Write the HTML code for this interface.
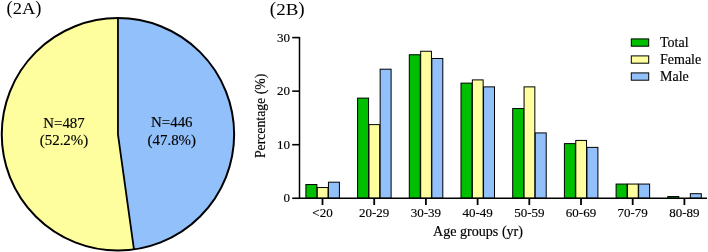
<!DOCTYPE html>
<html><head><meta charset="utf-8"><title>Figure 2</title>
<style>html,body{margin:0;padding:0;background:#fff}svg{display:block}.fig{position:relative;width:708px;height:252px;overflow:hidden;will-change:transform;font-family:'Liberation Serif','Times New Roman',serif;color:#000}.pl{position:absolute;line-height:1;white-space:nowrap}.pl span{display:inline-block;transform:scaleY(0.87);transform-origin:0 83.7%}text{stroke:#000;stroke-width:0.16px}text.p{stroke:none}</style></head>
<body>
<div class="fig">
<svg width="708" height="252" viewBox="0 0 708 252" font-family="'Liberation Serif', 'Times New Roman', serif" fill="#000">
<rect width="708" height="252" fill="#fff"/>
<path d="M117.95,134.3 L117.95,18.10000000000001 A116.2,116.2 0 0 1 133.96,249.39 Z" fill="#92c0fa"/>
<path d="M117.95,134.3 L133.96,249.39 A116.2,116.2 0 1 1 117.95,18.10000000000001 Z" fill="#fefe9e"/>
<path d="M117.95,18.10000000000001 L117.95,134.3 L133.96,249.39" fill="none" stroke="#000" stroke-width="1.8" stroke-linejoin="round"/>
<circle cx="117.95" cy="134.3" r="116.2" fill="none" stroke="#000" stroke-width="2"/>
<g font-size="14.9" text-anchor="middle">
<text x="64" y="127.5">N=487</text><text x="64" y="145.2">(52.2%)</text>
<text x="171.8" y="127.3">N=446</text><text x="171.8" y="145.2">(47.8%)</text>
</g>
<rect x="305.90" y="184.54" width="10.97" height="13.71" fill="#00be00" stroke="#000" stroke-width="1"/>
<rect x="317.27" y="187.54" width="10.77" height="10.71" fill="#fefe9e" stroke="#000" stroke-width="1"/>
<rect x="328.44" y="182.19" width="10.97" height="16.07" fill="#92c0fa" stroke="#000" stroke-width="1"/>
<rect x="357.60" y="98.11" width="10.97" height="100.14" fill="#00be00" stroke="#000" stroke-width="1"/>
<rect x="368.97" y="124.62" width="10.77" height="73.63" fill="#fefe9e" stroke="#000" stroke-width="1"/>
<rect x="380.14" y="69.19" width="10.97" height="129.06" fill="#92c0fa" stroke="#000" stroke-width="1"/>
<rect x="409.30" y="54.74" width="10.97" height="143.51" fill="#00be00" stroke="#000" stroke-width="1"/>
<rect x="420.67" y="51.26" width="10.77" height="146.99" fill="#fefe9e" stroke="#000" stroke-width="1"/>
<rect x="431.84" y="58.48" width="10.97" height="139.77" fill="#92c0fa" stroke="#000" stroke-width="1"/>
<rect x="461.00" y="83.12" width="10.97" height="115.13" fill="#00be00" stroke="#000" stroke-width="1"/>
<rect x="472.37" y="79.90" width="10.77" height="118.35" fill="#fefe9e" stroke="#000" stroke-width="1"/>
<rect x="483.54" y="86.87" width="10.97" height="111.38" fill="#92c0fa" stroke="#000" stroke-width="1"/>
<rect x="512.70" y="108.55" width="10.97" height="89.70" fill="#00be00" stroke="#000" stroke-width="1"/>
<rect x="524.07" y="86.87" width="10.77" height="111.38" fill="#fefe9e" stroke="#000" stroke-width="1"/>
<rect x="535.24" y="132.92" width="10.97" height="65.33" fill="#92c0fa" stroke="#000" stroke-width="1"/>
<rect x="564.40" y="143.63" width="10.97" height="54.62" fill="#00be00" stroke="#000" stroke-width="1"/>
<rect x="575.77" y="140.42" width="10.77" height="57.83" fill="#fefe9e" stroke="#000" stroke-width="1"/>
<rect x="586.94" y="147.38" width="10.97" height="50.87" fill="#92c0fa" stroke="#000" stroke-width="1"/>
<rect x="616.10" y="184.06" width="10.97" height="14.19" fill="#00be00" stroke="#000" stroke-width="1"/>
<rect x="627.47" y="184.06" width="10.77" height="14.19" fill="#fefe9e" stroke="#000" stroke-width="1"/>
<rect x="638.64" y="184.06" width="10.97" height="14.19" fill="#92c0fa" stroke="#000" stroke-width="1"/>
<rect x="667.80" y="196.54" width="10.97" height="1.71" fill="#00be00" stroke="#000" stroke-width="1"/>
<rect x="690.34" y="193.70" width="10.97" height="4.55" fill="#92c0fa" stroke="#000" stroke-width="1"/>
<path d="M299.5,36.90 V198.25 M298.8,198.25 H707" stroke="#000" stroke-width="1.5" fill="none"/>
<path d="M292.2,198.25 H299.5" stroke="#000" stroke-width="1.6"/>
<text x="289.9" y="202.35" font-size="13" text-anchor="end">0</text>
<path d="M292.2,144.70 H299.5" stroke="#000" stroke-width="1.6"/>
<text x="289.9" y="148.80" font-size="13" text-anchor="end">10</text>
<path d="M292.2,91.15 H299.5" stroke="#000" stroke-width="1.6"/>
<text x="289.9" y="95.25" font-size="13" text-anchor="end">20</text>
<path d="M292.2,37.60 H299.5" stroke="#000" stroke-width="1.6"/>
<text x="289.9" y="41.70" font-size="13" text-anchor="end">30</text>
<path d="M322.50,198.25 V205" stroke="#000" stroke-width="1.8"/>
<text x="322.50" y="217.4" font-size="13" text-anchor="middle">&lt;20</text>
<path d="M374.20,198.25 V205" stroke="#000" stroke-width="1.8"/>
<text x="374.20" y="217.4" font-size="13" text-anchor="middle">20-29</text>
<path d="M425.90,198.25 V205" stroke="#000" stroke-width="1.8"/>
<text x="425.90" y="217.4" font-size="13" text-anchor="middle">30-39</text>
<path d="M477.60,198.25 V205" stroke="#000" stroke-width="1.8"/>
<text x="477.60" y="217.4" font-size="13" text-anchor="middle">40-49</text>
<path d="M529.30,198.25 V205" stroke="#000" stroke-width="1.8"/>
<text x="529.30" y="217.4" font-size="13" text-anchor="middle">50-59</text>
<path d="M581.00,198.25 V205" stroke="#000" stroke-width="1.8"/>
<text x="581.00" y="217.4" font-size="13" text-anchor="middle">60-69</text>
<path d="M632.70,198.25 V205" stroke="#000" stroke-width="1.8"/>
<text x="632.70" y="217.4" font-size="13" text-anchor="middle">70-79</text>
<path d="M684.40,198.25 V205" stroke="#000" stroke-width="1.8"/>
<text x="684.40" y="217.4" font-size="13" text-anchor="middle">80-89</text>
<text x="478" y="235.8" font-size="14.1" text-anchor="middle">Age groups (yr)</text>
<text transform="translate(265.0,115.9) rotate(-90)" font-size="13.75" text-anchor="middle">Percentage (%)</text>
<rect x="631.3" y="38.90" width="17.4" height="7.3" fill="#00be00" stroke="#000" stroke-width="1"/>
<text x="660" y="46.50" font-size="14">Total</text>
<rect x="631.3" y="55.90" width="17.4" height="7.3" fill="#fefe9e" stroke="#000" stroke-width="1"/>
<text x="660" y="63.50" font-size="14">Female</text>
<rect x="631.3" y="72.90" width="17.4" height="7.3" fill="#92c0fa" stroke="#000" stroke-width="1"/>
<text x="660" y="80.50" font-size="14">Male</text>
</svg>
<div class="pl" style="left:6.5px;top:-1.49px;font-size:18.5px">(<span>2A</span>)</div>
<div class="pl" style="left:269.8px;top:-0.81px;font-size:19px">(<span>2B</span>)</div>
</div>
</body></html>
